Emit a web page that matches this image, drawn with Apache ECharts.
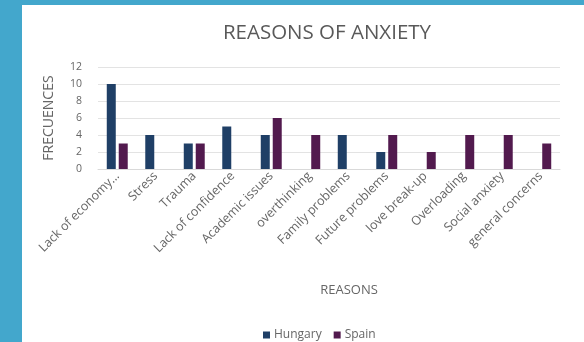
<!DOCTYPE html>
<html>
<head>
<meta charset="utf-8">
<script src="https://cdn.jsdelivr.net/npm/echarts@6/dist/echarts.min.js"></script>
<style>
html,body{margin:0;padding:0;width:584px;height:342px;background:#43a7cc;overflow:hidden;}
#panel{position:absolute;left:22px;top:5px;width:562px;height:337px;background:#ffffff;}
#chart{width:562px;height:337px;}
</style>
</head>
<body>
<div id="panel"><div id="chart"></div></div>
<script>
const categories = ["Lack of economy…","Stress","Trauma","Lack of confidence","Academic issues","overthinking","Family problems","Future problems","love break-up","Overloading","Social anxiety","general concerns"];
const hungary = [10,4,3,5,4,null,4,2,null,null,null,null];
const spain = [3,null,3,null,6,4,null,4,2,4,4,3];
const yTicks = {min:0,max:12,interval:2};

const font = "'Open Sans', Roboto, sans-serif";
const gray = "#666666";
const chart = echarts.init(document.getElementById('chart'));
chart.setOption({
  animation:false,
  textStyle:{fontFamily:font},
  title:[
    {text:"REASONS OF ANXIETY",left:300,top:13,textAlign:'center',
     textStyle:{fontSize:20.5,fontWeight:'normal',color:'#595959',fontFamily:font}},
    {text:"REASONS",left:322,top:274,textAlign:'center',
     textStyle:{fontSize:13,fontWeight:'normal',color:gray,fontFamily:font}}
  ],
  legend:{
    data:["Hungary","Spain"],left:236,top:319,
    icon:'rect',itemWidth:7,itemHeight:7,itemGap:12,itemStyle:{borderWidth:0},
    textStyle:{fontSize:12,color:gray,fontFamily:font,padding:[0,0,0,-1]}
  },
  grid:{left:76,right:24,top:62,bottom:173,containLabel:false},
  xAxis:{
    type:'category',data:categories,
    axisTick:{show:false},
    axisLine:{lineStyle:{color:'#d9d9d9'}},
    axisLabel:{rotate:45,fontSize:12.5,color:gray,margin:5,interval:0,fontFamily:font}
  },
  yAxis:{
    type:'value',min:yTicks.min,max:yTicks.max,interval:yTicks.interval,
    name:"FRECUENCES",nameLocation:'middle',nameRotate:90,nameGap:42,
    nameTextStyle:{fontSize:14,color:gray,fontFamily:font},
    axisLine:{show:false},axisTick:{show:false},
    axisLabel:{fontSize:10.5,color:gray,margin:16,fontFamily:font},
    splitLine:{lineStyle:{color:'#e3e3e3'}}
  },
  series:[
    {name:"Hungary",type:'bar',data:hungary,barWidth:9,barGap:'33%',
     itemStyle:{color:'#1f3f66'}},
    {name:"Spain",type:'bar',data:spain,barWidth:9,
     itemStyle:{color:'#521a4e'}}
  ]
});
</script>
</body>
</html>
